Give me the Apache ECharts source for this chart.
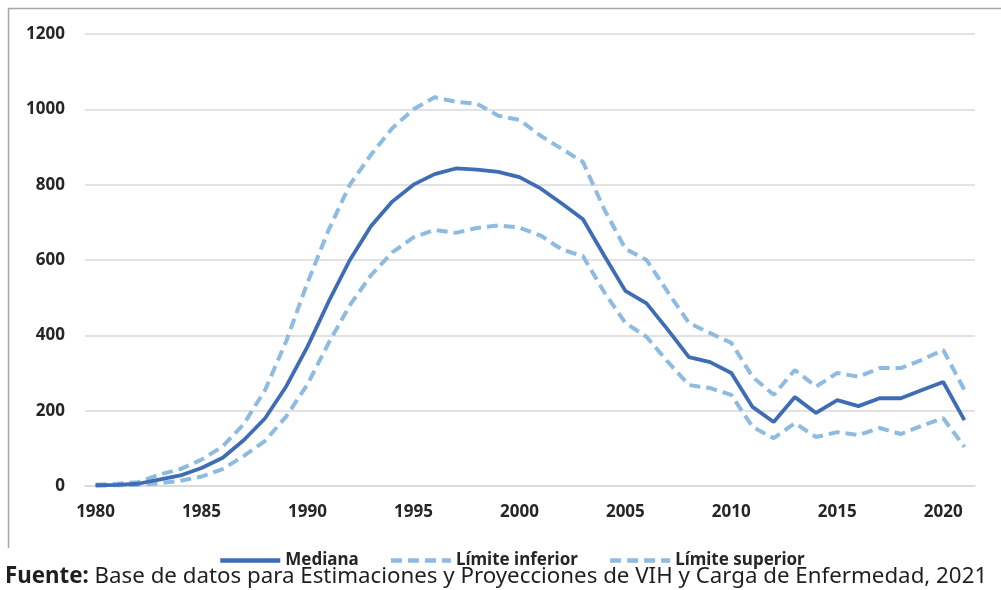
<!DOCTYPE html>
<html>
<head>
<meta charset="utf-8">
<script src="https://cdn.jsdelivr.net/npm/echarts@6/dist/echarts.min.js"></script>
<style>
  html, body { margin: 0; padding: 0; background: #ffffff; }
  #chart { width: 1001px; height: 590px; }
</style>
</head>
<body>
<div id="chart"></div>
<script>
// Casos anuales de VIH: mediana e intervalo de estimación, 1980–2021
const years = ['1980','1981','1982','1983','1984','1985','1986','1987','1988','1989',
  '1990','1991','1992','1993','1994','1995','1996','1997','1998','1999',
  '2000','2001','2002','2003','2004','2005','2006','2007','2008','2009',
  '2010','2011','2012','2013','2014','2015','2016','2017','2018','2019',
  '2020','2021'];

const mediana = [2, 3, 6, 17, 28, 48, 75, 122, 180, 265,
  370, 490, 600, 690, 755, 800, 828, 843, 840, 834,
  820, 790, 750, 708, 612, 518, 485, 415, 342, 329,
  300, 210, 170, 236, 194, 228, 212, 233, 233, 255,
  276, 175];

const limiteInferior = [1, 2, 3, 7, 14, 25, 45, 80, 120, 185,
  270, 380, 480, 560, 620, 660, 680, 672, 685, 692,
  686, 665, 628, 610, 515, 433, 396, 330, 268, 260,
  242, 157, 127, 167, 130, 143, 135, 154, 138, 160,
  180, 104];

const limiteSuperior = [3, 6, 10, 30, 45, 70, 105, 165, 255, 385,
  540, 680, 800, 880, 950, 1000, 1032, 1020, 1015, 983,
  972, 930, 895, 860, 735, 630, 600, 515, 433, 406,
  380, 290, 242, 308, 264, 300, 290, 313, 313, 335,
  361, 255];

const yTicks = { min: 0, max: 1200, step: 200 };

const seriesNames = ['Mediana', 'Límite inferior', 'Límite superior'];
const sourceLabel = 'Fuente:';
const sourceText = ' Base de datos para Estimaciones y Proyecciones de VIH y Carga de Enfermedad, 2021';

const darkBlue = '#3f6db5';
const lightBlue = '#8dbbe1';
const dashPattern = [11, 6];

const chart = echarts.init(document.getElementById('chart'), null, { renderer: 'canvas' });

chart.setOption({
  animation: false,
  backgroundColor: '#ffffff',
  grid: { left: 85, right: 26, top: 34, bottom: 104, containLabel: false },
  xAxis: {
    type: 'category',
    data: years,
    boundaryGap: true,
    axisLine: { show: true, lineStyle: { color: '#d9d9d9', width: 1.5 } },
    axisTick: { show: false },
    axisLabel: {
      interval: (idx, val) => Number(val) % 5 === 0,
      margin: 18,
      color: '#262626',
      fontFamily: 'Noto Sans',
      fontWeight: 'bold',
      fontSize: 17
    },
    splitLine: { show: false }
  },
  yAxis: {
    type: 'value',
    min: yTicks.min,
    max: yTicks.max,
    interval: yTicks.step,
    axisLine: { show: false },
    axisTick: { show: false },
    axisLabel: {
      margin: 20,
      color: '#262626',
      fontFamily: 'Noto Sans',
      fontWeight: 'bold',
      fontSize: 17,
      formatter: (v) => String(v)
    },
    splitLine: { show: true, lineStyle: { color: '#d9d9d9', width: 1.5 } }
  },
  legend: {
    data: seriesNames,
    left: 213,
    top: 547,
    itemWidth: 60,
    itemHeight: 14,
    itemGap: 30,
    itemStyle: { opacity: 0 },
    lineStyle: { width: 4.5 },
    textStyle: {
      fontFamily: 'Noto Sans',
      fontWeight: 'bold',
      fontSize: 17,
      color: '#262626'
    }
  },
  series: [
    {
      name: seriesNames[0],
      type: 'line',
      data: mediana,
      symbol: 'none',
      z: 3,
      lineStyle: { color: darkBlue, width: 3.8 },
      itemStyle: { color: darkBlue }
    },
    {
      name: seriesNames[1],
      type: 'line',
      data: limiteInferior,
      symbol: 'none',
      z: 2,
      lineStyle: { color: lightBlue, width: 4, type: dashPattern, cap: 'butt' },
      itemStyle: { color: lightBlue }
    },
    {
      name: seriesNames[2],
      type: 'line',
      data: limiteSuperior,
      symbol: 'none',
      z: 2,
      lineStyle: { color: lightBlue, width: 4, type: dashPattern, cap: 'butt' },
      itemStyle: { color: lightBlue }
    }
  ],
  graphic: [
    // chart frame (top and left edges)
    { type: 'line', shape: { x1: 8, y1: 8.5, x2: 1001, y2: 8.5 }, style: { stroke: '#a6a6a6', lineWidth: 1.5 }, silent: true },
    { type: 'line', shape: { x1: 8.5, y1: 8, x2: 8.5, y2: 548 }, style: { stroke: '#a6a6a6', lineWidth: 1.5 }, silent: true },
    {
      type: 'text',
      left: 5,
      top: 566,
      silent: true,
      style: {
        text: '{b|' + sourceLabel + '}{r|' + sourceText + '}',
        rich: {
          b: { fontFamily: 'Noto Sans', fontWeight: 'bold', fontSize: 22.3, fill: '#1f1f1f' },
          r: { fontFamily: 'Noto Sans', fontWeight: 'normal', fontSize: 22.3, fill: '#1f1f1f' }
        }
      }
    }
  ]
});
</script>
</body>
</html>
